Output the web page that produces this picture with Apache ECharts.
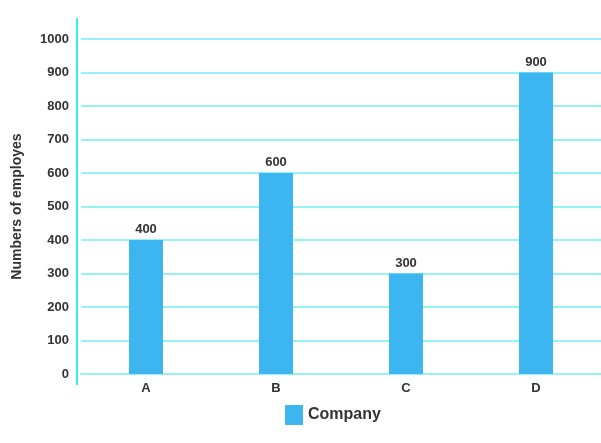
<!DOCTYPE html>
<html><head><meta charset="utf-8">
<script src="https://cdn.jsdelivr.net/npm/echarts@6/dist/echarts.min.js"></script>
<style>html,body{margin:0;padding:0;background:#fff}#c{width:601px;height:443px}</style>
</head><body><div id="c"></div>
<script>
var categories = ['A', 'B', 'C', 'D'];
var employees = [400, 600, 300, 900];
var seriesName = 'Company';
var yTicks = {min: 0, max: 1000, interval: 100};

var chart = echarts.init(document.getElementById('c'), null, {renderer: 'canvas'});
var font = '"Liberation Sans", Arial, sans-serif';
chart.setOption({
  animation: false,
  backgroundColor: '#fff',
  textStyle: {fontFamily: font},
  grid: {left: 81, right: 0, top: 39, bottom: 69},
  legend: {
    data: [seriesName], top: 400, left: 280,
    itemWidth: 18, itemHeight: 20, icon: 'rect', itemGap: 7,
    textStyle: {fontFamily: font, fontWeight: 'bold', fontSize: 16, color: '#333'}
  },
  graphic: [{
    type: 'line', shape: {x1: 77, y1: 18, x2: 77, y2: 385},
    style: {stroke: '#35eef2', lineWidth: 2}, z: 10
  }],
  xAxis: {
    type: 'category', data: categories,
    axisLine: {show: true, lineStyle: {color: '#95f3f6', width: 2}},
    axisTick: {show: false},
    axisLabel: {color: '#333', fontWeight: 'bold', fontSize: 13, margin: 8, fontFamily: font}
  },
  yAxis: {
    type: 'value', min: yTicks.min, max: yTicks.max, interval: yTicks.interval,
    name: 'Numbers of employes', nameLocation: 'middle', nameGap: 57,
    nameTextStyle: {color: '#333', fontWeight: 'bold', fontSize: 14, fontFamily: font},
    axisLine: {show: false}, axisTick: {show: false},
    axisLabel: {color: '#333', fontWeight: 'bold', fontSize: 13, margin: 12, fontFamily: font,
      formatter: function (v) { return String(v); }},
    splitLine: {lineStyle: {color: '#95f3f6', width: 2}}
  },
  series: [{
    name: seriesName, type: 'bar', data: employees, barWidth: 34,
    itemStyle: {color: '#3db5f0'},
    label: {show: true, position: 'top', distance: 4, color: '#333', fontWeight: 'bold', fontSize: 13, fontFamily: font}
  }]
});
</script></body></html>
